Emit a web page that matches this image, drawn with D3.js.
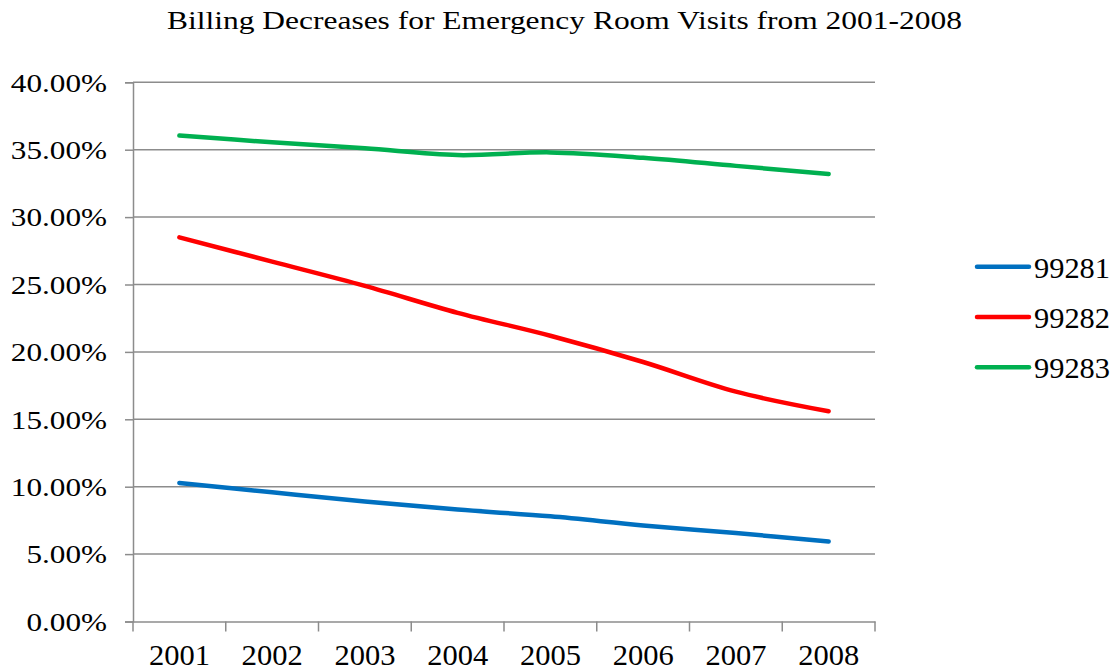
<!DOCTYPE html>
<html>
<head>
<meta charset="utf-8">
<script src="https://cdn.jsdelivr.net/npm/d3@7"></script>
<style>
  html, body { margin: 0; padding: 0; background: #fff; }
  svg { display: block; }
  text { font-family: "Liberation Serif", "Times New Roman", serif; fill: #000; }
</style>
</head>
<body>
<svg id="chart" width="1116" height="670"></svg>
<script>
const title = "Billing Decreases for Emergency Room Visits from 2001-2008";
const years = ["2001", "2002", "2003", "2004", "2005", "2006", "2007", "2008"];
const seriesNames = ["99281", "99282", "99283"];
const values99281 = [10.28, 9.58, 8.90, 8.30, 7.80, 7.13, 6.56, 5.94];
const values99282 = [28.50, 26.70, 24.90, 22.90, 21.20, 19.25, 17.05, 15.60];
const values99283 = [36.05, 35.55, 35.10, 34.60, 34.80, 34.40, 33.80, 33.20];
const yTicks = [0, 5, 10, 15, 20, 25, 30, 35, 40];
const colors = ["#0070C0", "#FF0000", "#00B050"];

const series = [
  { name: seriesNames[0], values: values99281, color: colors[0] },
  { name: seriesNames[1], values: values99282, color: colors[1] },
  { name: seriesNames[2], values: values99283, color: colors[2] }
];

const svg = d3.select("#chart");
const pLeft = 133, pRight = 875, pTop = 82.3, pBottom = 621.5;
const gridColor = "#8c8c8c";

const x = d3.scaleBand().domain(years).range([pLeft, pRight]).padding(0);
const y = d3.scaleLinear().domain([0, 40]).range([pBottom, pTop]);

// Title
svg.append("text")
  .attr("x", 167).attr("y", 29)
  .style("font-size", "25px")
  .attr("textLength", 795)
  .attr("lengthAdjust", "spacingAndGlyphs")
  .text(title);

// Gridlines
svg.append("g").selectAll("line").data(yTicks.filter(d => d > 0)).join("line")
  .attr("x1", pLeft).attr("x2", pRight)
  .attr("y1", d => y(d)).attr("y2", d => y(d))
  .attr("stroke", gridColor).attr("stroke-width", 1.5);

// Y axis
const yAxis = svg.append("g")
  .attr("transform", `translate(${pLeft},0)`)
  .call(d3.axisLeft(y).tickValues(yTicks).tickSize(8).tickFormat(d => d3.format(".2f")(d) + "%"));
yAxis.select(".domain").attr("stroke", gridColor).attr("stroke-width", 1.5);
yAxis.selectAll(".tick line").attr("stroke", gridColor).attr("stroke-width", 1.5);
yAxis.selectAll(".tick text")
  .attr("x", -26)
  .attr("dy", "0.34em")
  .style("font-size", "26px")
  .attr("font-family", null)
  .each(function() {
    const w = this.getComputedTextLength();
    d3.select(this).attr("textLength", w * 1.2).attr("lengthAdjust", "spacingAndGlyphs");
  });

// X axis
const xAxis = svg.append("g")
  .attr("transform", `translate(0,${pBottom})`)
  .call(d3.axisBottom(x).tickSize(0).tickFormat(d => d));
xAxis.select(".domain").attr("stroke", gridColor).attr("stroke-width", 1.5);
xAxis.selectAll(".tick text")
  .attr("y", 43)
  .attr("dy", 0)
  .style("font-size", "29px")
  .attr("font-family", null)
  .attr("textLength", 61)
  .attr("lengthAdjust", "spacingAndGlyphs");
// boundary ticks
const bounds = years.map(d => x(d)).concat([x(years[years.length - 1]) + x.bandwidth()]);
svg.append("g").selectAll("line").data(bounds).join("line")
  .attr("x1", d => d).attr("x2", d => d)
  .attr("y1", pBottom).attr("y2", pBottom + 10)
  .attr("stroke", gridColor).attr("stroke-width", 1.5);

// Lines
const line = d3.line()
  .x((d, i) => x(years[i]) + x.bandwidth() / 2)
  .y(d => y(d))
  .curve(d3.curveCatmullRom.alpha(0.5));

svg.append("g").selectAll("path").data(series).join("path")
  .attr("d", d => line(d.values))
  .attr("fill", "none")
  .attr("stroke", d => d.color)
  .attr("stroke-width", 4.5)
  .attr("stroke-linecap", "round")
  .attr("stroke-linejoin", "round");

// Legend
const legend = svg.append("g").selectAll("g").data(series).join("g")
  .attr("transform", (d, i) => `translate(977,${266.7 + i * 50.3})`);
legend.append("line")
  .attr("x1", 0).attr("x2", 52).attr("y1", 0).attr("y2", 0)
  .attr("stroke", d => d.color).attr("stroke-width", 4.5)
  .attr("stroke-linecap", "round");
legend.append("text")
  .attr("x", 57).attr("y", 11)
  .style("font-size", "30px")
  .attr("textLength", 76)
  .attr("lengthAdjust", "spacingAndGlyphs")
  .text(d => d.name);
</script>
</body>
</html>
